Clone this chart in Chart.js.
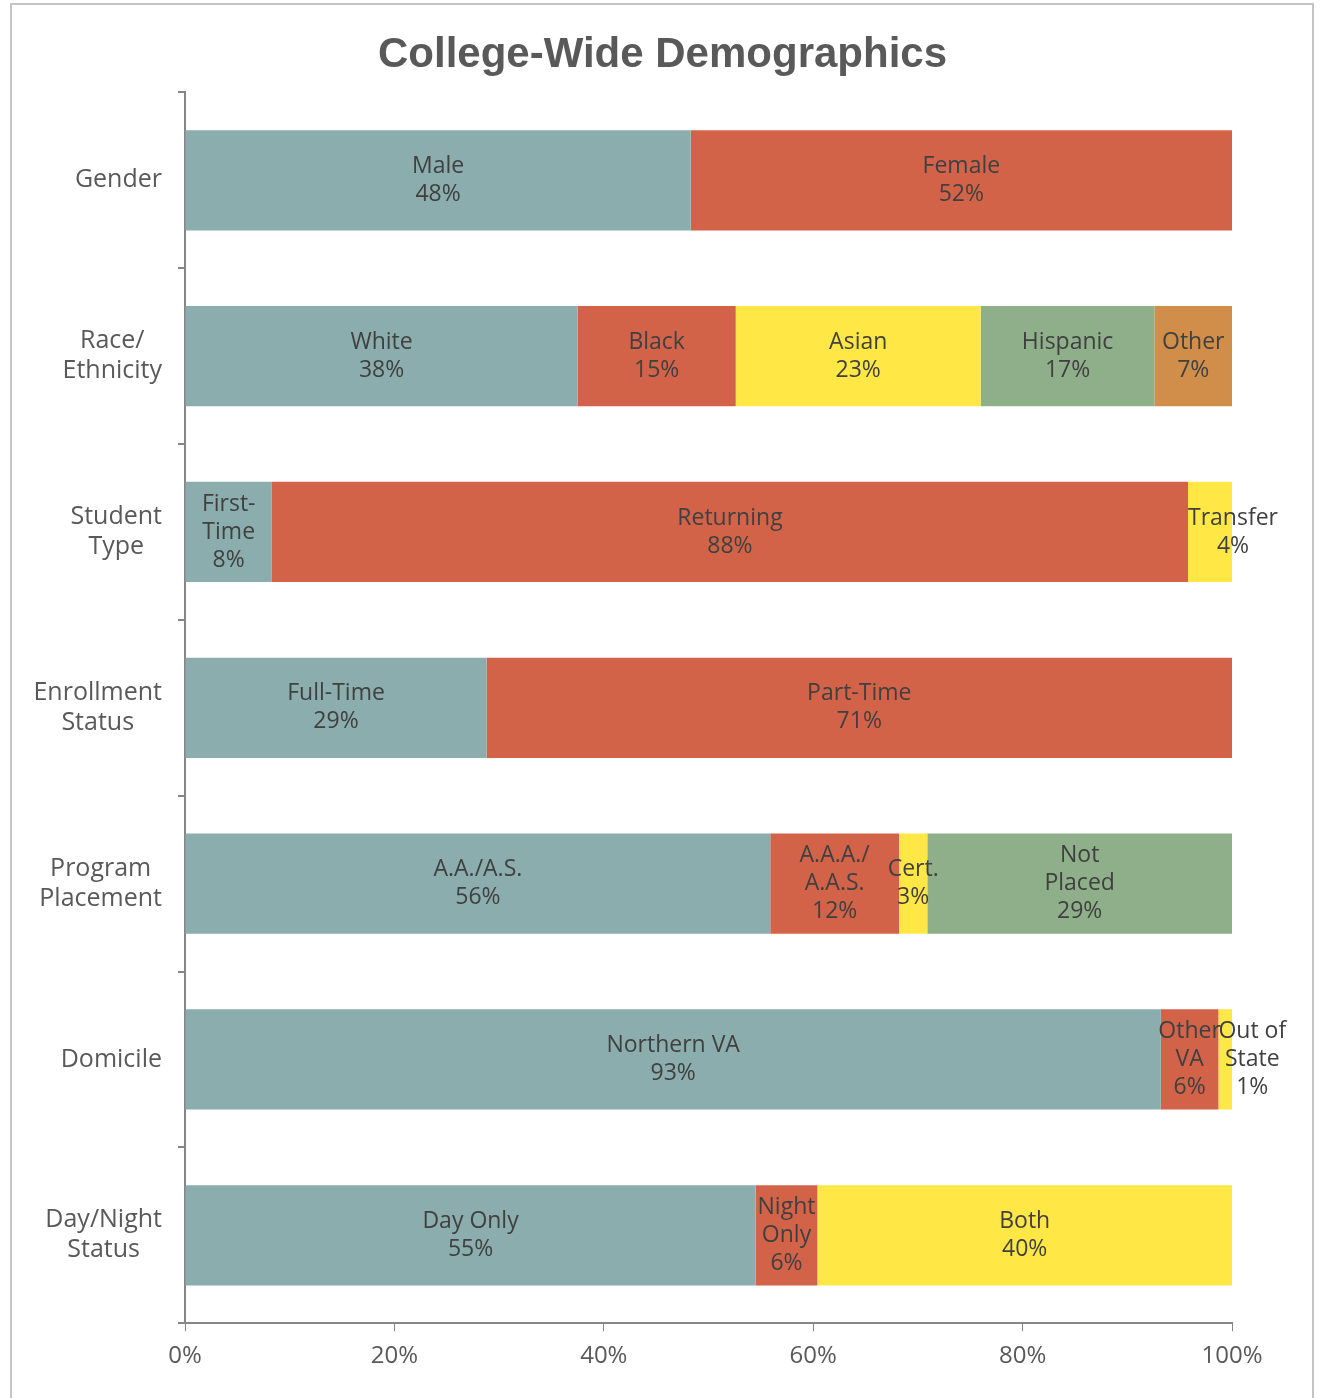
<!DOCTYPE html>
<html>
<head>
<meta charset="utf-8">
<script src="https://cdn.jsdelivr.net/npm/chart.js@4.4.0/dist/chart.umd.min.js"></script>
<style>
  html, body { margin: 0; padding: 0; background: #fff; }
  #wrap { position: relative; width: 1325px; height: 1398px; }
  #frame { position: absolute; left: 10px; top: 3px; width: 1304px; height: 1400px; border: 2px solid #c4c4c4; box-sizing: border-box; }
  canvas { position: absolute; left: 0; top: 0; }
</style>
</head>
<body>
<div id="wrap">
  <div id="frame"></div>
  <canvas id="demoChart" width="1325" height="1398"></canvas>
</div>
<script>
// Row labels (y axis)
const categories = [
  ['Gender'],
  ['Race/', 'Ethnicity'],
  ['Student', 'Type'],
  ['Enrollment', 'Status'],
  ['Program', 'Placement'],
  ['Domicile'],
  ['Day/Night', 'Status']
];

// Segment values, one array per stack position (percent of row)
const seg1 = [48.3, 37.5, 8.3, 28.8, 55.9, 93.2, 54.5];
const seg2 = [51.7, 15.1, 87.5, 71.2, 12.3, 5.5, 5.9];
const seg3 = [null, 23.4, 4.2, null, 2.7, 1.3, 39.6];
const seg4 = [null, 16.6, null, null, 29.1, null, null];
const seg5 = [null, 7.4, null, null, null, null, null];

// Segment names shown inside bars
const names1 = ['Male', 'White', 'First-\nTime', 'Full-Time', 'A.A./A.S.', 'Northern VA', 'Day Only'];
const names2 = ['Female', 'Black', 'Returning', 'Part-Time', 'A.A.A./\nA.A.S.', 'Other\nVA', 'Night\nOnly'];
const names3 = [null, 'Asian', 'Transfer', null, 'Cert.', 'Out of\nState', 'Both'];
const names4 = [null, 'Hispanic', null, null, 'Not\nPlaced', null, null];
const names5 = [null, 'Other', null, null, null, null, null];

const xTicks = [0, 20, 40, 60, 80, 100];

const colors = ['#8BADAD', '#D26349', '#FFE746', '#8FAF8A', '#D18E4A'];
const axisColor = '#868686';
const textColor = '#595959';
const labelColor = '#404040';
const fontFamily = "'Open Sans', 'Noto Sans', sans-serif";

const allValues = [seg1, seg2, seg3, seg4, seg5];
const allNames = [names1, names2, names3, names4, names5];

const datasets = allValues.map((vals, i) => ({
  label: 'seg' + (i + 1),
  data: vals,
  names: allNames[i],
  backgroundColor: colors[i],
  borderWidth: 0,
  categoryPercentage: 1,
  barPercentage: 0.57
}));

// draw "Name / NN%" inside each bar piece
const barLabels = {
  id: 'barLabels',
  afterDatasetsDraw(chart) {
    const ctx = chart.ctx;
    ctx.save();
    ctx.font = '23px ' + fontFamily;
    ctx.fillStyle = labelColor;
    ctx.textAlign = 'center';
    ctx.textBaseline = 'middle';
    const lineH = 28;
    chart.data.datasets.forEach((ds, di) => {
      const meta = chart.getDatasetMeta(di);
      meta.data.forEach((bar, i) => {
        const v = ds.data[i];
        if (v == null) return;
        const p = bar.getProps(['x', 'y', 'base'], true);
        const left = Math.min(p.x, p.base);
        const right = Math.max(p.x, p.base);
        const lines = ds.names[i].split('\n').concat([Math.round(v) + '%']);
        const blockW = Math.max(...lines.map(l => ctx.measureText(l).width));
        let cx = (left + right) / 2;
        // last piece that is too narrow: text starts at piece's left edge
        const isLast = chart.data.datasets.slice(di + 1).every(d => d.data[i] == null);
        if (isLast && blockW > right - left) cx = left + blockW / 2;
        const top = p.y - (lines.length - 1) * lineH / 2;
        lines.forEach((l, k) => ctx.fillText(l, cx, top + k * lineH));
      });
    });
    ctx.restore();
  }
};

// y labels: block right-aligned, lines centered within the block
const rowLabels = {
  id: 'rowLabels',
  afterDraw(chart) {
    const ctx = chart.ctx;
    const scale = chart.scales.y;
    ctx.save();
    ctx.font = '25px ' + fontFamily;
    ctx.fillStyle = textColor;
    ctx.textAlign = 'center';
    ctx.textBaseline = 'middle';
    const lineH = 30;
    const rightEdge = 162;
    categories.forEach((lines, i) => {
      const y = scale.getPixelForValue(i);
      const w = Math.max(...lines.map(l => ctx.measureText(l).width));
      const cx = rightEdge - w / 2;
      const top = y - (lines.length - 1) * lineH / 2;
      lines.forEach((l, k) => ctx.fillText(l, cx, top + k * lineH));
    });
    ctx.restore();
  }
};

new Chart(document.getElementById('demoChart'), {
  type: 'bar',
  data: {
    labels: categories,
    datasets: datasets
  },
  plugins: [barLabels, rowLabels],
  options: {
    indexAxis: 'y',
    responsive: false,
    animation: false,
    layout: { padding: { left: 0, right: 0, top: 0, bottom: 16 } },
    plugins: {
      legend: { display: false },
      tooltip: { enabled: false },
      title: {
        display: true,
        text: 'College-Wide Demographics',
        color: textColor,
        font: { family: "'Liberation Sans', Arial, sans-serif", size: 42, weight: 'bold' },
        padding: { top: 30, bottom: 12 }
      }
    },
    scales: {
      x: {
        stacked: true,
        min: 0,
        max: 100,
        afterBuildTicks(scale) {
          scale.ticks = xTicks.map(v => ({ value: v }));
        },
        ticks: {
          color: textColor,
          font: { family: fontFamily, size: 24 },
          padding: 11,
          callback: v => v + '%'
        },
        grid: { drawOnChartArea: false, drawTicks: true, tickLength: 8, color: axisColor, lineWidth: 1 },
        border: { color: axisColor, width: 2 }
      },
      y: {
        stacked: true,
        afterFit(scale) { scale.width = 185; },
        ticks: { color: 'rgba(0,0,0,0)', font: { family: fontFamily, size: 23 } },
        grid: { offset: true, drawOnChartArea: false, drawTicks: true, tickLength: 7, color: axisColor, lineWidth: 2 },
        border: { color: axisColor, width: 2 }
      },
      // empty right margin so the title centres on the whole picture
      yRight: {
        type: 'linear',
        position: 'right',
        afterFit(scale) { scale.width = 93; },
        ticks: { display: false },
        grid: { display: false },
        border: { display: false }
      }
    }
  }
});
</script>
</body>
</html>
